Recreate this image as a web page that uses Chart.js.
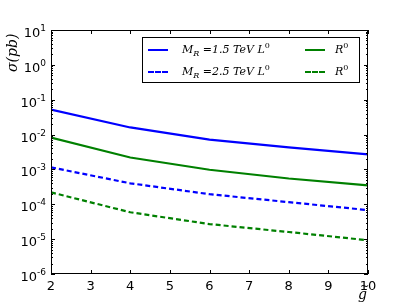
<!DOCTYPE html>
<html>
<head>
<meta charset="utf-8">
<script src="https://cdn.jsdelivr.net/npm/chart.js@4/dist/chart.umd.min.js"></script>
<style>
  html, body { margin: 0; padding: 0; background: #fff; }
  #wrap { position: relative; width: 407px; height: 305px; }
  #legend {
    position: absolute; left: 142px; top: 37px; width: 218px; height: 46px;
    border: 1px solid #000; background: #fff; box-sizing: border-box;
    font-family: "DejaVu Serif", serif; font-style: italic; font-size: 11px; color: #000;
  }
  .row { position: absolute; left: 0; height: 14px; line-height: 14px; white-space: nowrap; }
  .swatch { position: absolute; top: 6px; width: 20px; height: 0; }
  .lbl { position: absolute; top: 0; }
  .lbl sub { font-size: 8px; vertical-align: -3px; line-height: 0; }
  .lbl sup { font-size: 8px; vertical-align: 5px; line-height: 0; font-style: normal; }
  .ylab { position: absolute; left: 4px; top: 72px; transform: rotate(-90deg); transform-origin: left top;
    font-family: "DejaVu Serif", serif; font-style: italic; font-size: 14px; }
  .xlab { position: absolute; left: 358px; top: 286px; font-family: "DejaVu Serif", serif; font-style: italic; font-size: 14px; }
  .tilde { position: absolute; left: 360px; top: 280px; font-family: "DejaVu Sans", sans-serif; font-size: 11px; }
</style>
</head>
<body>
<div id="wrap">
  <canvas id="c" width="407" height="305"></canvas>
  <div class="ylab">σ(pb)</div>
  <div class="tilde">~</div>
  <div class="xlab">g</div>
  <div id="legend">
    <div class="row" style="top:5px;width:100%;">
      <div class="swatch" style="left:5px;border-top:2px solid #0000ff;"></div>
      <div class="lbl" style="left:39px;">M<sub>R</sub> =1.5 TeV L<sup>0</sup></div>
      <div class="swatch" style="left:162px;border-top:2px solid #008000;"></div>
      <div class="lbl" style="left:192px;">R<sup>0</sup></div>
    </div>
    <div class="row" style="top:27px;width:100%;">
      <div class="swatch" style="left:5px;border-top:2px dashed #0000ff;"></div>
      <div class="lbl" style="left:39px;">M<sub>R</sub> =2.5 TeV L<sup>0</sup></div>
      <div class="swatch" style="left:162px;border-top:2px dashed #008000;"></div>
      <div class="lbl" style="left:192px;">R<sup>0</sup></div>
    </div>
  </div>
</div>
<script>
// couplings g~
const gValues = [2, 4, 6, 8, 10];
// cross sections (pb)
const mr15L0 = [0.052, 0.016, 0.0072, 0.0043, 0.0027];
const mr15R0 = [0.0082, 0.0022, 0.00098, 0.00055, 0.00035];
const mr25L0 = [0.00115, 0.00040, 0.000195, 0.000115, 0.000068];
const mr25R0 = [0.00022, 0.000059, 0.000027, 0.000016, 0.0000093];
const xTicks = [2, 3, 4, 5, 6, 7, 8, 9, 10];
const yExponents = [1, 0, -1, -2, -3, -4, -5, -6];

const pts = arr => gValues.map((g, i) => ({ x: g, y: arr[i] }));

// matplotlib style inward ticks, frame and 10^n labels
const frameTicks = {
  id: 'frameTicks',
  afterDraw(chart) {
    const { ctx, chartArea: a, scales } = chart;
    ctx.save();
    ctx.strokeStyle = '#000';
    ctx.lineWidth = 1;
    ctx.strokeRect(a.left + 0.5, a.top + 0.5, a.right - a.left - 1, a.bottom - a.top - 1);
    ctx.beginPath();
    xTicks.forEach(t => {
      const px = Math.round(scales.x.getPixelForValue(t)) + 0.5;
      ctx.moveTo(px, a.bottom); ctx.lineTo(px, a.bottom - 4);
      ctx.moveTo(px, a.top); ctx.lineTo(px, a.top + 4);
    });
    yExponents.forEach(e => {
      for (let m = 1; m <= 9; m++) {
        const v = m * Math.pow(10, e);
        if (v > 10.0001) continue;
        const py = Math.round(scales.y.getPixelForValue(v)) + 0.5;
        if (py < a.top || py > a.bottom + 1) continue;
        const len = m === 1 ? 4 : 2;
        ctx.moveTo(a.left, py); ctx.lineTo(a.left + len, py);
        ctx.moveTo(a.right, py); ctx.lineTo(a.right - len, py);
      }
    });
    ctx.stroke();

    // y labels: "10" plus raised exponent
    ctx.fillStyle = '#000';
    ctx.textBaseline = 'alphabetic';
    yExponents.forEach(e => {
      const py = scales.y.getPixelForValue(Math.pow(10, e));
      const exp = String(e);
      ctx.font = '9px "DejaVu Sans"';
      const ew = ctx.measureText(exp).width;
      const right = a.left - 5;
      ctx.textAlign = 'left';
      ctx.fillText(exp, right - ew, py + 1);
      ctx.font = '13px "DejaVu Sans"';
      ctx.textAlign = 'right';
      ctx.fillText('10', right - ew, py + 7);
    });
    ctx.restore();
  }
};

new Chart(document.getElementById('c'), {
  type: 'line',
  data: {
    datasets: [
      { label: 'MR=1.5 TeV L0', data: pts(mr15L0), borderColor: '#0000ff', borderWidth: 2.2 },
      { label: 'MR=1.5 TeV R0', data: pts(mr15R0), borderColor: '#008000', borderWidth: 2.2 },
      { label: 'MR=2.5 TeV L0', data: pts(mr25L0), borderColor: '#0000ff', borderWidth: 2.2, borderDash: [5, 3] },
      { label: 'MR=2.5 TeV R0', data: pts(mr25R0), borderColor: '#008000', borderWidth: 2.2, borderDash: [5, 3] }
    ]
  },
  options: {
    responsive: false,
    animation: false,
    layout: { padding: { top: 30, right: 39, left: 0, bottom: 0 } },
    elements: { point: { radius: 0 }, line: { tension: 0 } },
    plugins: { legend: { display: false }, tooltip: { enabled: false } },
    scales: {
      x: {
        type: 'linear', min: 2, max: 10,
        afterFit: s => { s.height = 31; },
        afterBuildTicks: s => { s.ticks = xTicks.map(v => ({ value: v })); },
        grid: { display: false, drawTicks: false },
        border: { display: false },
        ticks: { color: '#000', font: { family: 'DejaVu Sans', size: 13 }, padding: 5, maxRotation: 0 }
      },
      y: {
        type: 'logarithmic', min: 1e-6, max: 10,
        afterFit: s => { s.width = 51; },
        afterBuildTicks: s => { s.ticks = yExponents.map(e => ({ value: Math.pow(10, e) })); },
        grid: { display: false, drawTicks: false },
        border: { display: false },
        ticks: { display: false }
      }
    }
  },
  plugins: [frameTicks]
});
</script>
</body>
</html>
